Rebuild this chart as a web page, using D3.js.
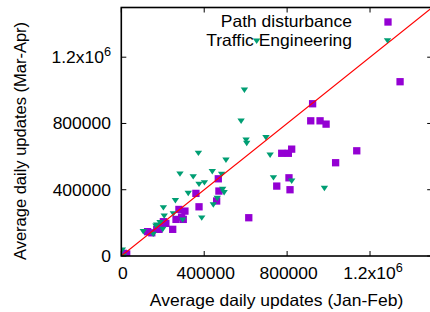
<!DOCTYPE html>
<html><head><meta charset="utf-8">
<script src="https://cdn.jsdelivr.net/npm/d3@7"></script>
<style>
html,body{margin:0;padding:0;background:#fff;}
svg{display:block;font-family:"Liberation Sans",Arial,Helvetica,sans-serif;}
</style></head>
<body>
<svg id="c" width="430" height="312"></svg>
<script>
// values in thousands of updates/day
const pathDisturbance = [
  [2,0],[10,16],[26,12],[127,147],[147,140],[171,161],[182,161],[187,177],[203,207],[215,197],
  [248,161],[264,221],[291,235],[299,221],[278,281],[307,271],[360,378],[375,297],[460,332],
  [471,392],[468,466],[615,231],[750,422],[809,472],[814,400],[774,620],[806,620],[822,645],
  [914,816],[923,919],[959,816],[988,796],[1034,563],[1136,635],[1345,1052]
];
const trafficEngineering = [
  [5,36],[10,0],[106,147],[154,131],[167,181],[171,187],[187,201],[200,161],[203,291],[207,241],
  [251,255],[261,334],[283,495],[296,217],[323,378],[347,478],[372,620],[375,433],[388,229],
  [401,442],[439,509],[444,308],[463,348],[484,493],[489,402],[496,382],[505,579],[578,814],
  [594,1001],[602,700],[605,680],[653,1297],[698,714],[718,609],[734,472],[822,452],[980,408]
];
const xTicks = [0, 400000, 800000, 1200000];
const yTicks = [0, 400000, 800000, 1200000];
const seriesNames = ["Path disturbance", "Traffic Engineering"];
const xTitle = "Average daily updates (Jan-Feb)";
const yTitle = "Average daily updates (Mar-Apr)";

const colors = ["#9400d3", "#009e73"];
const svg = d3.select("#c");
const L = 121.3, R = 432.2, T = 7.5, B = 256;
const x = d3.scaleLinear().domain([0, 1.5e6]).range([L, R]);
const y = d3.scaleLinear().domain([0, 1.5e6]).range([B, T]);
const fs = 16.5, sx = 1.06;

function htext(px, py, anchor) {
  return svg.append("g").attr("transform", `translate(${px},${py}) scale(${sx},1)`)
    .append("text").attr("text-anchor", anchor).attr("font-size", fs).attr("fill", "#000");
}
function tickLabel(sel, v) {
  if (v >= 1e6) {
    sel.append("tspan").text(d3.format(".1f")(v/1e6) + "x10");
    sel.append("tspan").attr("dy", -7).attr("font-size", 12).text("6");
  } else sel.text(String(v));
}

svg.append("clipPath").attr("id","clip").append("rect")
  .attr("x", L).attr("y", T).attr("width", R-L).attr("height", B-T);

// ticks (inward, mirrored)
const tk = svg.append("g").attr("stroke","#000").attr("stroke-width",1);
xTicks.forEach(v => {
  tk.append("line").attr("x1",x(v)).attr("x2",x(v)).attr("y1",B).attr("y2",B-5);
  tk.append("line").attr("x1",x(v)).attr("x2",x(v)).attr("y1",T).attr("y2",T+5);
});
yTicks.forEach(v => {
  tk.append("line").attr("y1",y(v)).attr("y2",y(v)).attr("x1",L).attr("x2",L+5);
  tk.append("line").attr("y1",y(v)).attr("y2",y(v)).attr("x1",R).attr("x2",R-5);
});

// tick labels
xTicks.forEach(v => tickLabel(htext(x(v) + (v >= 1e6 ? 3 : 1.5), 279, "middle"), v));
yTicks.forEach(v => tickLabel(htext(111, y(v) + 6, "end"), v));

// axis titles
htext(276.5, 306, "middle").text(xTitle);
svg.append("text").attr("transform","translate(26,141) rotate(-90)").attr("text-anchor","middle")
  .attr("font-size",fs).text(yTitle);

// data
const plot = svg.append("g").attr("clip-path","url(#clip)");
const sq = 7.3;
plot.selectAll("rect.pd").data(pathDisturbance).join("rect").attr("class","pd")
  .attr("x", d => x(d[0]*1000) - sq/2).attr("y", d => y(d[1]*1000) - sq/2)
  .attr("width", sq).attr("height", sq).attr("fill", colors[0]);
const tri = (cx, cy) => `M${cx-3.7},${cy-2.6}L${cx+3.7},${cy-2.6}L${cx},${cy+2.8}Z`;
plot.selectAll("path.te").data(trafficEngineering).join("path").attr("class","te")
  .attr("d", d => tri(x(d[0]*1000), y(d[1]*1000))).attr("fill", colors[1]);

// legend
htext(352, 27, "end").text(seriesNames[0]);
svg.append("rect").attr("x", 388 - sq/2).attr("y", 22 - sq/2).attr("width", sq).attr("height", sq).attr("fill", colors[0]);
htext(352, 45.5, "end").text(seriesNames[1]);
svg.append("path").attr("d", tri(387.5, 40.8)).attr("fill", colors[1]);

// y = x line
plot.append("line").attr("x1", x(0)).attr("y1", y(0)).attr("x2", x(1.5e6)).attr("y2", y(1.5e6))
  .attr("stroke", "#ff0000").attr("stroke-width", 1.2);

// border
svg.append("rect").attr("x", L).attr("y", T).attr("width", R-L).attr("height", B-T)
  .attr("fill","none").attr("stroke","#000").attr("stroke-width",1.6);
</script>
</body></html>
